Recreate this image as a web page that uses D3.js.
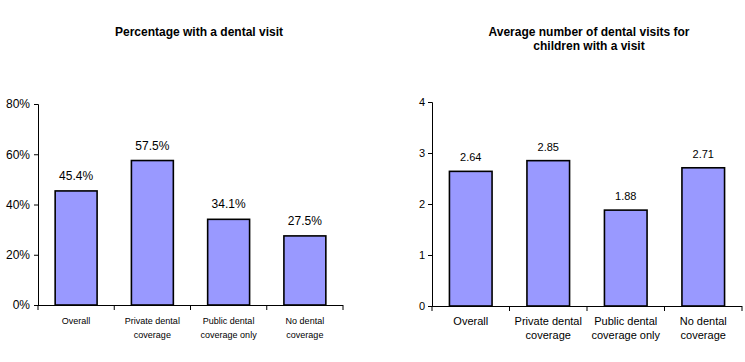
<!DOCTYPE html>
<html>
<head>
<meta charset="utf-8">
<script src="https://cdn.jsdelivr.net/npm/d3@7"></script>
<style>
  body { margin: 0; background: #fff; }
  text { font-family: "Liberation Sans", Arial, sans-serif; fill: #000; }
</style>
</head>
<body>
<svg id="chart" width="745" height="362"></svg>
<script>
// categories shared by both panels
const categories = ["Overall", "Private dental|coverage", "Public dental|coverage only", "No dental|coverage"];

// left panel: percentage with a dental visit
const pctValues = [45.4, 57.5, 34.1, 27.5];
const pctTicks = [0, 20, 40, 60, 80];

// right panel: average number of visits
const visitValues = [2.64, 2.85, 1.88, 2.71];
const visitTicks = [0, 1, 2, 3, 4];

const svg = d3.select("#chart");

function drawPanel(cfg) {
    const g = svg.append("g");

    const x = d3.scaleBand()
        .domain(categories)
        .range([cfg.left, cfg.right])
        .paddingInner(0.45)
        .paddingOuter(0.225);

    const y = d3.scaleLinear()
        .domain([0, d3.max(cfg.ticks)])
        .range([cfg.bottom, cfg.top]);

    // bars
    g.selectAll("rect.bar")
        .data(cfg.values)
        .join("rect")
        .attr("class", "bar")
        .attr("x", (d, i) => x(categories[i]))
        .attr("y", d => y(d))
        .attr("width", x.bandwidth())
        .attr("height", d => y(0) - y(d))
        .attr("fill", "#9999ff")
        .attr("stroke", "#000")
        .attr("stroke-width", 1.6);

    // value labels
    g.selectAll("text.val")
        .data(cfg.values)
        .join("text")
        .attr("class", "val")
        .attr("x", (d, i) => x(categories[i]) + x.bandwidth() / 2)
        .attr("y", d => y(d) - cfg.labelGap)
        .attr("text-anchor", "middle")
        .style("font-size", cfg.valSize + "px")
        .text(cfg.fmt);

    // y axis
    const yAxis = g.append("g")
        .attr("transform", `translate(${cfg.left},0)`)
        .call(d3.axisLeft(y).tickValues(cfg.ticks).tickSize(4).tickFormat(cfg.tickFmt));
    yAxis.select(".domain").attr("stroke", "#000");
    yAxis.selectAll("text")
        .style("font-size", cfg.tickSize + "px")
        .style("font-family", "'Liberation Sans', Arial, sans-serif")
        .attr("x", cfg.tickGap);

    // x axis: ticks at category boundaries
    const bounds = d3.range(categories.length + 1)
        .map(i => cfg.left + i * (cfg.right - cfg.left) / categories.length);
    g.append("line")
        .attr("x1", cfg.left).attr("x2", cfg.right)
        .attr("y1", cfg.bottom + 0.5).attr("y2", cfg.bottom + 0.5)
        .attr("stroke", "#000");
    g.selectAll("line.xtick")
        .data(bounds)
        .join("line")
        .attr("class", "xtick")
        .attr("x1", d => d).attr("x2", d => d)
        .attr("y1", cfg.bottom).attr("y2", cfg.bottom + 5)
        .attr("stroke", "#000");

    // category labels
    categories.forEach(c => {
        const t = g.append("text")
            .attr("x", x(c) + x.bandwidth() / 2)
            .attr("y", cfg.bottom + 19)
            .attr("text-anchor", "middle")
            .style("font-size", cfg.catSize + "px");
        c.split("|").forEach((line, j) => {
            t.append("tspan")
                .attr("x", x(c) + x.bandwidth() / 2)
                .attr("dy", j === 0 ? 0 : 14)
                .text(line);
        });
    });

    // title
    const title = g.append("text")
        .attr("x", cfg.titleX)
        .attr("y", 36)
        .attr("text-anchor", "middle")
        .style("font-size", "12px")
        .style("font-weight", "bold");
    cfg.title.forEach((line, j) => {
        title.append("tspan")
            .attr("x", cfg.titleX)
            .attr("dy", j === 0 ? 0 : 14)
            .text(line);
    });
}

drawPanel({
    left: 38, right: 343, top: 104, bottom: 305,
    values: pctValues, ticks: pctTicks,
    fmt: d => d.toFixed(1) + "%",
    tickFmt: d => d + "%",
    labelGap: 11, valSize: 12, tickSize: 12, tickGap: -8, catSize: 9,
    titleX: 199,
    title: ["Percentage with a dental visit"]
});

drawPanel({
    left: 432, right: 742, top: 102, bottom: 306,
    values: visitValues, ticks: visitTicks,
    fmt: d => d.toFixed(2),
    tickFmt: d => d,
    labelGap: 10, valSize: 11, tickSize: 11, tickGap: -7, catSize: 11,
    titleX: 589,
    title: ["Average number of dental visits for", "children with a visit"]
});
</script>
</body>
</html>
